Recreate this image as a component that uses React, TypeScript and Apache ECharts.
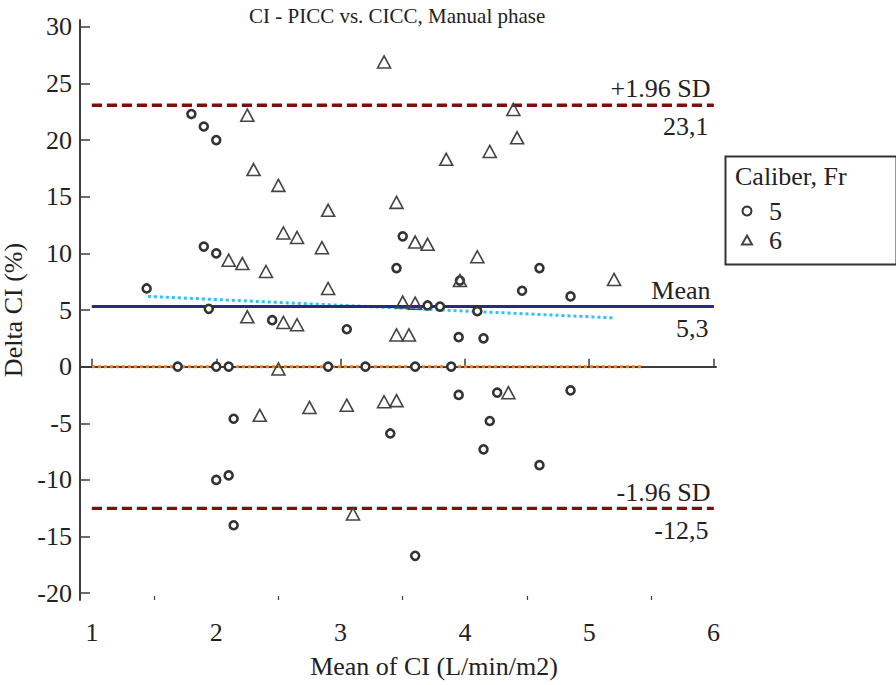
import React, { useEffect, useRef } from "react";
import * as echarts from "echarts";

const FONT = "'Liberation Serif', 'Times New Roman', serif";

const xTicks = [1, 2, 3, 4, 5, 6];
const xMinorTicks = [1.5, 2.5, 3.5, 4.5, 5.5];
const yTicks = [-20, -15, -10, -5, 0, 5, 10, 15, 20, 25, 30];

// Caliber 5 Fr: [mean CI, delta CI %]
const caliber5: number[][] = [
  [1.44, 6.9], [1.8, 22.3], [1.9, 21.2], [2.0, 20.0], [1.9, 10.6], [2.0, 10.0],
  [1.94, 5.1], [1.69, 0], [2.0, 0], [2.1, 0], [2.14, -4.6], [2.0, -10.0],
  [2.1, -9.6], [2.14, -14.0], [2.45, 4.1], [2.9, 0], [3.05, 3.3], [3.2, 0],
  [3.5, 11.5], [3.45, 8.7], [3.7, 5.4], [3.8, 5.3], [3.96, 7.6], [4.1, 4.9],
  [3.95, 2.6], [4.15, 2.5], [3.6, 0], [3.89, 0], [3.95, -2.5], [4.26, -2.3],
  [4.46, 6.7], [4.6, 8.7], [4.85, 6.2], [4.85, -2.1], [3.4, -5.9], [4.2, -4.8],
  [4.15, -7.3], [3.6, -16.7], [4.6, -8.7],
];

// Caliber 6 Fr
const caliber6: number[][] = [
  [2.25, 22.2], [2.3, 17.4], [2.5, 16.0], [3.35, 26.9], [4.39, 22.7], [4.42, 20.2],
  [4.2, 19.0], [3.85, 18.3], [3.45, 14.5], [2.9, 13.8], [2.54, 11.8], [2.65, 11.4],
  [2.1, 9.4], [2.21, 9.1], [2.4, 8.4], [2.85, 10.5], [3.6, 11.0], [3.7, 10.8],
  [4.1, 9.7], [3.96, 7.6], [2.9, 6.9], [3.5, 5.7], [3.6, 5.6], [2.25, 4.4],
  [2.54, 3.9], [2.65, 3.7], [3.45, 2.8], [3.55, 2.8], [2.5, -0.2], [2.35, -4.3],
  [2.75, -3.6], [3.05, -3.4], [3.35, -3.1], [3.45, -3.0], [4.35, -2.3], [3.1, -13.0],
  [5.2, 7.7],
];

const upperLimit = 23.1;
const meanDiff = 5.3;
const lowerLimit = -12.5;
const limitSpan = [1, 6];
const zeroLine: number[][] = [[1, 0], [5.42, 0]];
const regressionLine: number[][] = [[1.45, 6.2], [5.2, 4.3]];

const labelFont = { fontFamily: FONT, fontSize: 26, color: "#222" };

function refLine(name: string, value: number, color: string, type: any, above: string, below: string) {
  const seg = [{ coord: [limitSpan[0], value] }, { coord: [limitSpan[1], value] }];
  return {
    name,
    type: "line",
    data: [[limitSpan[0], value], [limitSpan[1], value]],
    symbol: "none",
    silent: true,
    lineStyle: { color, width: 3, type },
    z: 3,
    markLine: {
      silent: true,
      symbol: ["none", "none"],
      lineStyle: { color, width: 3, type },
      data: [
        [
          { ...seg[0], label: { show: true, position: "insideEndTop", formatter: above, distance: [3, 3], ...labelFont } },
          seg[1],
        ],
        [
          { ...seg[0], label: { show: true, position: "insideEndBottom", formatter: below, distance: [5, 9], ...labelFont } },
          seg[1],
        ],
      ],
    },
  };
}

export default function App() {
  const ref = useRef<HTMLDivElement>(null);
  useEffect(() => {
    document.body.style.margin = "0";
    const chart = echarts.init(ref.current!, null, { renderer: "svg" });
    const axisColor = "#3c3c3c";
    chart.setOption({
      animation: false,
      backgroundColor: "#fff",
      title: {
        text: "CI - PICC vs. CICC, Manual phase",
        left: 244,
        top: 0,
        textStyle: { fontFamily: FONT, fontSize: 21, fontWeight: "normal", color: "#222" },
      },
      grid: { left: 80, right: 180, top: 20, bottom: 85, outerBoundsMode: "none", containLabel: false },
      xAxis: [
        {
          type: "value",
          min: 0.904,
          max: 6.02,
          name: "Mean of CI (L/min/m2)",
          nameLocation: "middle",
          nameGap: 53,
          nameTextStyle: { ...labelFont, padding: [0, 0, 0, 72] },
          axisLine: { show: true, lineStyle: { color: axisColor, width: 2 } },
          axisTick: { show: true, inside: true, length: 8, customValues: xTicks, lineStyle: { color: axisColor, width: 1.5 } },
          axisLabel: { customValues: xTicks, margin: 19, ...labelFont },
          splitLine: { show: false },
        },
        {
          type: "value",
          min: 0.904,
          max: 6.02,
          position: "bottom",
          axisLine: { show: false },
          axisTick: { show: true, inside: true, length: 4, customValues: xMinorTicks, lineStyle: { color: axisColor, width: 1.2 } },
          axisLabel: { show: false },
          splitLine: { show: false },
        },
      ],
      yAxis: {
        type: "value",
        min: -20.6,
        max: 30.6,
        name: "Delta CI (%)",
        nameLocation: "middle",
        nameGap: 44,
        nameTextStyle: labelFont,
        axisLine: { show: true, lineStyle: { color: axisColor, width: 2 } },
        axisTick: { show: true, inside: true, length: 10, customValues: yTicks, lineStyle: { color: axisColor, width: 1.5 } },
        axisLabel: { customValues: yTicks, margin: 8, ...labelFont },
        splitLine: { show: false },
      },
      legend: {
        data: ["5", "6"],
        orient: "vertical",
        left: 736,
        top: 193,
        itemWidth: 10,
        itemHeight: 9,
        itemGap: 3,
        textStyle: { ...labelFont, padding: [0, 0, 0, 12] },
      },
      graphic: [
        {
          type: "rect",
          left: 723,
          top: 154,
          shape: { width: 171, height: 108 },
          style: { fill: "none", stroke: "#333", lineWidth: 2 },
        },
        {
          type: "text",
          left: 735,
          top: 163,
          style: { text: "Caliber, Fr", font: `26px ${FONT}`, fill: "#222" },
        },
      ],
      series: [
        {
          name: "zero",
          type: "line",
          data: zeroLine,
          symbol: "none",
          silent: true,
          lineStyle: { color: "#f07c24", width: 3, type: [3, 3] },
          z: 2,
        },
        {
          name: "regression",
          type: "line",
          data: regressionLine,
          symbol: "none",
          silent: true,
          lineStyle: { color: "#2fc4f0", width: 3, type: [3, 3] },
          z: 2,
        },
        refLine("upper", upperLimit, "#7f0f0f", [10, 5], "+1.96 SD", "23,1"),
        refLine("mean", meanDiff, "#2a2a7c", "solid", "Mean", "5,3"),
        refLine("lower", lowerLimit, "#7f0f0f", [10, 5], "-1.96 SD", "-12,5"),
        {
          name: "5",
          type: "scatter",
          data: caliber5,
          symbol: "circle",
          symbolSize: 8,
          itemStyle: { color: "#fff", borderColor: "#333", borderWidth: 2.6, opacity: 1 },
          z: 5,
        },
        {
          name: "6",
          type: "scatter",
          data: caliber6,
          symbol: "triangle",
          symbolSize: [13, 12],
          itemStyle: { color: "rgba(255,255,255,0)", borderColor: "#444", borderWidth: 1.6, opacity: 1 },
          z: 5,
        },
      ],
    });
    return () => chart.dispose();
  }, []);
  return <div ref={ref} style={{ width: 896, height: 685 }} />;
}
